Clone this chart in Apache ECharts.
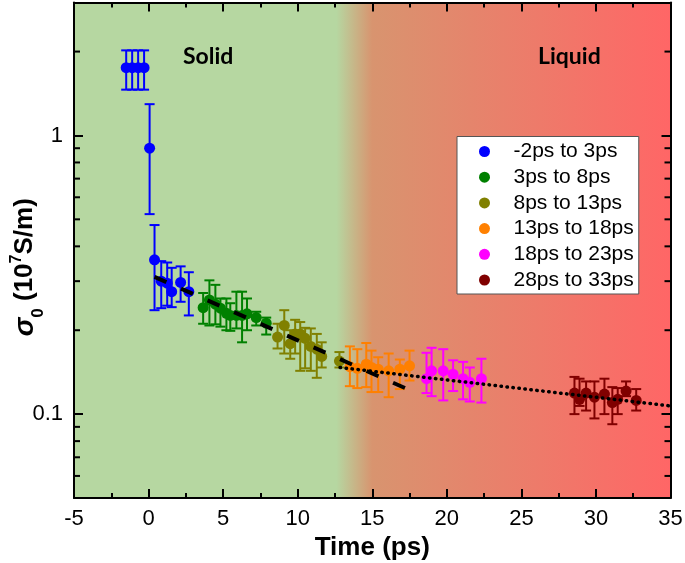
<!DOCTYPE html>
<html><head><meta charset="utf-8">
<script src="https://cdn.jsdelivr.net/npm/echarts@6/dist/echarts.min.js"></script>
<style>html,body{margin:0;padding:0;background:#fff}#c{width:685px;height:563px}</style>
</head><body><div id="c"></div>
<script>
// ---- data ----
const blueX = [-1.5, -1.1, -0.7, -0.3, 0.07, 0.4, 0.85, 1.25, 1.55, 2.15, 2.7];
const blueY = [1.75, 1.75, 1.75, 1.75, 0.9, 0.358, 0.30, 0.295, 0.275, 0.297, 0.275];
const blueLo = [1.46, 1.46, 1.46, 1.46, 0.522, 0.236, 0.24, 0.245, 0.242, 0.253, 0.226];
const blueHi = [2.02, 2.02, 2.02, 2.02, 1.295, 0.477, 0.354, 0.35, 0.335, 0.339, 0.323];

const greenX = [3.66, 4.08, 4.48, 4.82, 5.22, 5.48, 5.89, 6.27, 6.60, 7.22, 7.89];
const greenY = [0.241, 0.257, 0.248, 0.240, 0.230, 0.226, 0.226, 0.226, 0.229, 0.222, 0.212];
const greenLo = [0.211, 0.208, 0.210, 0.206, 0.200, 0.199, 0.203, 0.181, 0.200, 0.208, 0.193];
const greenHi = [0.272, 0.302, 0.291, 0.260, 0.260, 0.250, 0.275, 0.275, 0.260, 0.233, 0.222];

const oliveX = [8.65, 9.10, 9.50, 9.83, 10.17, 10.50, 10.88, 11.28, 11.61, 12.80];
const oliveY = [0.189, 0.208, 0.179, 0.194, 0.194, 0.187, 0.175, 0.171, 0.161, 0.155];
const oliveLo = [0.172, 0.165, 0.158, 0.165, 0.143, 0.146, 0.143, 0.135, 0.147, 0.147];
const oliveHi = [0.211, 0.236, 0.200, 0.218, 0.214, 0.204, 0.203, 0.194, 0.181, 0.167];

const orangeX = [13.5, 14.0, 14.6, 14.95, 15.4, 16.1, 16.85, 17.5];
const orangeY = [0.148, 0.146, 0.151, 0.147, 0.145, 0.143, 0.145, 0.149];
const orangeLo = [0.126, 0.124, 0.125, 0.120, 0.120, 0.115, 0.123, 0.132];
const orangeHi = [0.175, 0.171, 0.180, 0.169, 0.160, 0.165, 0.157, 0.169];

const magentaX = [18.64, 18.98, 19.76, 20.42, 21.09, 21.54, 22.32];
const magentaY = [0.134, 0.143, 0.143, 0.139, 0.134, 0.130, 0.134];
const magentaLo = [0.119, 0.116, 0.112, 0.121, 0.113, 0.111, 0.110];
const magentaHi = [0.166, 0.173, 0.171, 0.156, 0.154, 0.147, 0.158];

const maroonX = [28.56, 28.9, 29.34, 29.9, 30.57, 31.1, 31.46, 32.02, 32.7];
const maroonY = [0.119, 0.113, 0.119, 0.115, 0.118, 0.110, 0.113, 0.121, 0.112];
const maroonLo = [0.100, 0.107, 0.103, 0.0965, 0.100, 0.092, 0.100, 0.116, 0.103];
const maroonHi = [0.136, 0.134, 0.131, 0.131, 0.134, 0.125, 0.124, 0.131, 0.123];

const fitSolidX = [0.4, 17.5];
const fitSolidY = [0.311, 0.122];
const fitLiquidX = [12.84, 35];
const fitLiquidY = [0.147, 0.107];

const legendNames = ['-2ps to 3ps', '3ps to 8ps', '8ps to 13ps', '13ps to 18ps', '18ps to 23ps', '28ps to 33ps'];
const yMinorTicks = [0.06, 0.07, 0.08, 0.09, 0.2, 0.3, 0.4, 0.5, 0.6, 0.7, 0.8, 0.9, 2];
const yLabelValues = [0.1, 1];
const xMin = -5, xMax = 35, yMin = 0.05, yMax = 3;

// ---- build ----
const FONT = 'Liberation Sans, Arial, sans-serif';
const groups = [
  {name: legendNames[0], color: '#0000ff', x: blueX, y: blueY, lo: blueLo, hi: blueHi},
  {name: legendNames[1], color: '#008000', x: greenX, y: greenY, lo: greenLo, hi: greenHi},
  {name: legendNames[2], color: '#808000', x: oliveX, y: oliveY, lo: oliveLo, hi: oliveHi},
  {name: legendNames[3], color: '#ff8000', x: orangeX, y: orangeY, lo: orangeLo, hi: orangeHi},
  {name: legendNames[4], color: '#ff00ff', x: magentaX, y: magentaY, lo: magentaLo, hi: magentaHi},
  {name: legendNames[5], color: '#800000', x: maroonX, y: maroonY, lo: maroonLo, hi: maroonHi}
];
const zip = (a, b) => a.map((v, i) => [v, b[i]]);

function errRender(color) {
  return function (params, api) {
    const x = api.value(0), lo = api.value(1), hi = api.value(2);
    const pLo = api.coord([x, lo]), pHi = api.coord([x, hi]);
    const w = 5, st = {stroke: color, lineWidth: 2};
    return {type: 'group', children: [
      {type: 'line', shape: {x1: pLo[0], y1: pLo[1], x2: pHi[0], y2: pHi[1]}, style: st},
      {type: 'line', shape: {x1: pLo[0] - w, y1: pLo[1], x2: pLo[0] + w, y2: pLo[1]}, style: st},
      {type: 'line', shape: {x1: pHi[0] - w, y1: pHi[1], x2: pHi[0] + w, y2: pHi[1]}, style: st}
    ]};
  };
}

const series = [];
groups.forEach((g, i) => {
  series.push({
    name: 'err' + i, type: 'custom', z: 2, silent: true,
    renderItem: errRender(g.color),
    encode: {x: 0, y: [1, 2]},
    data: g.x.map((v, k) => [v, g.lo[k], g.hi[k]])
  });
});
groups.forEach((g) => {
  series.push({
    name: g.name, type: 'scatter', z: 3, symbol: 'circle', symbolSize: 11,
    itemStyle: {color: g.color, opacity: 1},
    data: zip(g.x, g.y)
  });
});
series.push({
  name: 'fitSolid', type: 'line', z: 5, symbol: 'none', silent: true,
  lineStyle: {color: '#000', width: 4, type: [13, 16]},
  data: zip(fitSolidX, fitSolidY)
});
series.push({
  name: 'fitLiquid', type: 'line', z: 5, symbol: 'none', silent: true,
  lineStyle: {color: '#000', width: 3.5, type: [0.5, 5.5], cap: 'round'},
  data: zip(fitLiquidX, fitLiquidY)
});
series.push({
  name: 'minorTicks', type: 'custom', z: 6, silent: true,
  renderItem: function (params, api) {
    const v = api.value(0);
    const pl = api.coord([xMin, v]), pr = api.coord([xMax, v]);
    const st = {stroke: '#000', lineWidth: 2};
    return {type: 'group', children: [
      {type: 'line', shape: {x1: pl[0], y1: pl[1], x2: pl[0] + 6, y2: pl[1]}, style: st},
      {type: 'line', shape: {x1: pr[0], y1: pr[1], x2: pr[0] - 6, y2: pr[1]}, style: st}
    ]};
  },
  encode: {y: 0},
  data: yMinorTicks.map(v => [v])
});

const axisLine = {show: true, onZero: false, lineStyle: {color: '#000', width: 2}};
const xCommon = {
  type: 'value', min: xMin, max: xMax, interval: 5,
  axisLine: axisLine, splitLine: {show: false},
  axisTick: {show: true, inside: true, length: 9, lineStyle: {width: 2, color: '#000'}},
  minorTick: {show: true, splitNumber: 2, length: 5, lineStyle: {width: 2, color: '#000'}}
};
const yCommon = {
  type: 'log', logBase: 10, min: yMin, max: yMax,
  axisLine: axisLine, splitLine: {show: false},
  axisTick: {show: true, inside: true, length: 9, lineStyle: {width: 2, color: '#000'}}
};

const option = {
  animation: false,
  backgroundColor: '#fff',
  grid: {
    left: 74, right: 14.5, top: 2.5, bottom: 65, show: true, borderWidth: 0,
    containLabel: false, outerBoundsMode: 'none',
    backgroundColor: {type: 'linear', x: 0, y: 0, x2: 1, y2: 0, colorStops: [
      {offset: 0, color: '#b6d7a1'}, {offset: 0.44, color: '#b6d7a1'},
      {offset: 0.5, color: '#d8946f'}, {offset: 1, color: '#ff6666'}]}
  },
  legend: {
    data: legendNames, orient: 'vertical', left: 457, top: 136.5,
    icon: 'circle', itemWidth: 44, itemHeight: 11, itemGap: 3.7,
    padding: [4, 5, 3, 22], backgroundColor: '#fff', borderColor: '#555', borderWidth: 1,
    textStyle: {fontFamily: FONT, fontSize: 21, color: '#000', lineHeight: 22, padding: [0, 0, 0, 2]},
    selectedMode: false
  },
  xAxis: [
    Object.assign({}, xCommon, {
      position: 'bottom',
      name: 'Time (ps)', nameLocation: 'middle', nameGap: 37, nameMoveOverlap: false,
      nameTextStyle: {fontFamily: FONT, fontWeight: 'bold', fontSize: 26, color: '#000'},
      axisLabel: {fontFamily: FONT, fontSize: 22, color: '#000', margin: 10}
    }),
    Object.assign({}, xCommon, {position: 'top', axisLabel: {show: false}})
  ],
  yAxis: [
    Object.assign({}, yCommon, {
      position: 'left',
      name: '{s|σ}{sub|0}{b| (10}{sup|7}{b|S/m)}', nameLocation: 'middle', nameGap: 33,
      nameRotate: 90, nameMoveOverlap: false,
      nameTextStyle: {
        fontFamily: FONT, fontWeight: 'bold', fontSize: 26, color: '#000',
        padding: [0, 34, 0, 0],
        rich: {
          s: {fontFamily: FONT, fontStyle: 'italic', fontWeight: 'bold', fontSize: 28, color: '#000', lineHeight: 32},
          sub: {fontFamily: FONT, fontWeight: 'bold', fontSize: 17, color: '#000', verticalAlign: 'bottom', lineHeight: 32, padding: [0, 0, -6, 0]},
          b: {fontFamily: FONT, fontWeight: 'bold', fontSize: 26, color: '#000', lineHeight: 32},
          sup: {fontFamily: FONT, fontWeight: 'bold', fontSize: 16, color: '#000', verticalAlign: 'top', lineHeight: 32, padding: [0, 0, 6, 0]}
        }
      },
      axisLabel: {
        fontFamily: FONT, fontSize: 22, color: '#000', margin: 11,
        formatter: function (v) {
          for (const t of yLabelValues) { if (Math.abs(v - t) / t < 1e-6) return String(t); }
          return '';
        }
      }
    }),
    Object.assign({}, yCommon, {position: 'right', axisLabel: {show: false}})
  ],
  graphic: [
    {type: 'text', left: 183, top: 45, z: 10, style: {text: 'Solid', font: 'bold 23px Lato, sans-serif', fill: '#000'}},
    {type: 'text', left: 538, top: 45, z: 10, style: {text: 'Liquid', font: 'bold 23px Lato, sans-serif', fill: '#000'}}
  ],
  series: series
};
const chart = echarts.init(document.getElementById('c'), null, {renderer: 'canvas'});
chart.setOption(option);
</script>
</body></html>
